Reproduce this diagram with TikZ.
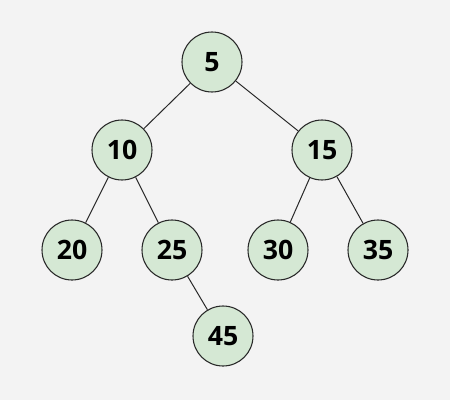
\documentclass[tikz,border=0pt]{standalone}
\usepackage{fontspec}
\setmainfont{Open Sans}
\definecolor{treebg}{RGB}{243,243,243}
\definecolor{treegreen}{RGB}{213,232,212}
\definecolor{treeline}{RGB}{40,40,40}
\begin{document}
\begin{tikzpicture}[x=0.75pt,y=-0.75pt,
    treenode/.style={circle,draw=treeline,fill=treegreen,line width=0.8pt,
      minimum size=45pt,inner sep=0pt,font=\fontsize{20}{24}\selectfont\bfseries},
    treeedge/.style={draw=treeline,line width=0.75pt}]
  % background
  \fill[treebg] (0,0) rectangle (450,400);
  \useasboundingbox (0,0) rectangle (450,400);

  % nodes
  \node[treenode] (n5)  at (212,62)  {5};
  \node[treenode] (n10) at (122,150) {10};
  \node[treenode] (n15) at (322,150) {15};
  \node[treenode] (n20) at (72,250)  {20};
  \node[treenode] (n25) at (172,250) {25};
  \node[treenode] (n30) at (278,250) {30};
  \node[treenode] (n35) at (378,250) {35};
  \node[treenode] (n45) at (223,336) {45};

  % edges
  \draw[treeedge] (n5) -- (n10);
  \draw[treeedge] (n5) -- (n15);
  \draw[treeedge] (n10) -- (n20);
  \draw[treeedge] (n10) -- (n25);
  \draw[treeedge] (n15) -- (n30);
  \draw[treeedge] (n15) -- (n35);
  \draw[treeedge] (n25) -- (n45);
\end{tikzpicture}
\end{document}
